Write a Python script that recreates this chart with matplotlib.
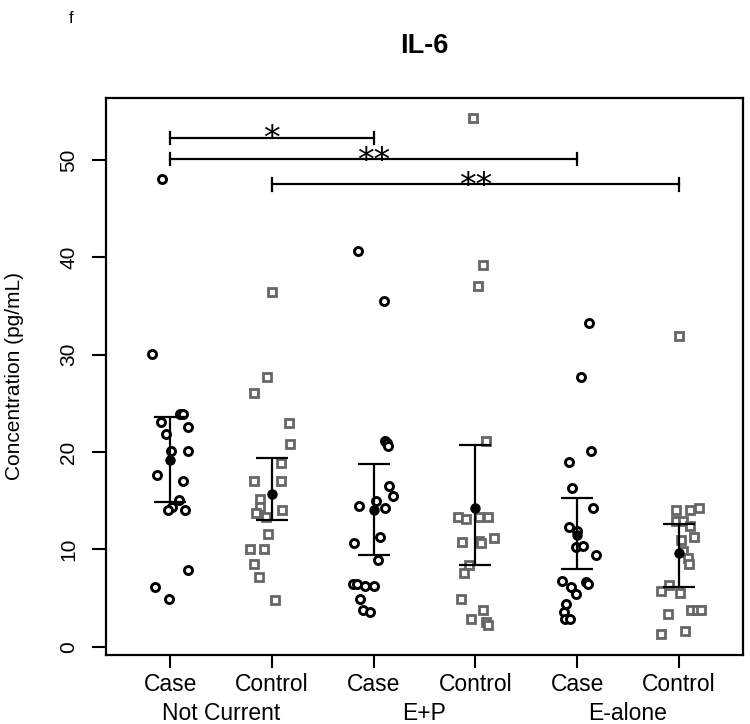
import matplotlib
matplotlib.use("Agg")
import matplotlib.pyplot as plt
import numpy as np

plt.rcParams['font.family'] = ['Liberation Sans', 'DejaVu Sans']

# group labels
tick_labels = ["Case", "Control", "Case", "Control", "Case", "Control"]
group_names = ["Not Current", "E+P", "E-alone"]

# IL-6 values (pg/mL) per group
nc_case = [48.1, 30.1, 23.9, 23.9, 23.1, 21.9, 22.6, 20.1, 20.1, 17.6, 17.0, 15.1, 14.4, 14.0, 14.0, 7.9, 6.1, 4.9]
nc_ctrl = [36.4, 27.7, 26.1, 23.0, 20.8, 18.9, 17.0, 17.0, 15.2, 14.4, 13.7, 13.3, 14.0, 11.6, 10.0, 10.0, 8.5, 7.2, 4.8]
ep_case = [40.7, 35.5, 21.1, 20.9, 20.6, 16.5, 15.5, 14.5, 15.0, 14.3, 11.3, 10.7, 8.9, 6.4, 6.4, 6.2, 6.2, 4.9, 3.8, 3.6]
ep_ctrl = [54.3, 39.2, 37.1, 21.1, 13.3, 13.1, 13.3, 13.3, 10.8, 10.9, 10.7, 11.2, 8.4, 7.6, 4.9, 3.8, 2.9, 2.5, 2.2]
ea_case = [33.3, 27.7, 20.1, 19.0, 16.3, 14.3, 12.3, 11.9, 10.2, 10.3, 9.4, 6.8, 6.1, 6.7, 6.4, 5.4, 4.4, 3.6, 2.9, 2.9]
ea_ctrl = [31.9, 14.0, 14.0, 14.3, 12.9, 12.9, 12.4, 11.3, 11.0, 9.8, 9.1, 8.5, 6.3, 5.7, 5.5, 3.8, 3.8, 3.8, 3.4, 1.3, 1.6]

# horizontal jitter of each point (as drawn)
jit_nc_case = [-0.08, -0.18, 0.10, 0.13, -0.09, -0.04, 0.18, 0.01, 0.18, -0.13, 0.13, 0.09, 0.02, -0.02, 0.15, 0.18, -0.15, -0.01]
jit_nc_ctrl = [0.0, -0.05, -0.18, 0.17, 0.18, 0.09, -0.18, 0.09, -0.12, -0.12, -0.16, -0.06, 0.10, -0.04, -0.21, -0.08, -0.18, -0.13, 0.03]
jit_ep_case = [-0.15, 0.10, 0.11, 0.13, 0.14, 0.15, 0.19, -0.14, 0.02, 0.11, 0.06, -0.19, 0.04, -0.20, -0.16, -0.08, 0.0, -0.13, -0.10, -0.04]
jit_ep_ctrl = [-0.02, 0.08, 0.03, 0.10, -0.17, -0.09, 0.04, 0.12, -0.13, 0.04, 0.06, 0.18, -0.06, -0.11, -0.14, 0.08, -0.04, 0.10, 0.12]
jit_ea_case = [0.12, 0.04, 0.14, -0.08, -0.05, 0.16, -0.08, 0.0, -0.01, 0.06, 0.19, -0.15, -0.06, 0.09, 0.11, -0.01, -0.11, -0.13, -0.12, -0.07]
jit_ea_ctrl = [0.0, -0.03, 0.11, 0.20, -0.03, 0.04, 0.11, 0.15, 0.02, 0.04, 0.09, 0.10, -0.10, -0.18, 0.01, 0.12, 0.18, 0.22, -0.11, -0.18, 0.06]

# mean and interval
means = [19.2, 15.7, 14.1, 14.3, 11.5, 9.6]
ci_lo = [14.9, 13.0, 9.4, 8.4, 8.0, 6.1]
ci_hi = [23.6, 19.4, 18.8, 20.7, 15.3, 12.6]

# significance brackets: (from, to, y, label)
sig_from = [1, 1, 2]
sig_to = [3, 5, 6]
sig_y = [52.3, 50.1, 47.5]
sig_lab = ["*", "**", "**"]

groups = [nc_case, nc_ctrl, ep_case, ep_ctrl, ea_case, ea_ctrl]
jitters = [jit_nc_case, jit_nc_ctrl, jit_ep_case, jit_ep_ctrl, jit_ea_case, jit_ea_ctrl]

fig = plt.figure(figsize=(7.5, 7.24), dpi=100)
ax = fig.add_axes([0.1413, 0.0957, 0.8493, 0.7694])

for i, (vals, jit) in enumerate(zip(groups, jitters)):
    x = i + 1 + np.array(jit)
    if i % 2 == 0:
        ax.plot(x, vals, 'o', ms=5.8, mfc='white', mec='black', mew=2.1, zorder=3)
    else:
        ax.plot(x, vals, 's', ms=6.4, mfc='white', mec='#666666', mew=2.0, zorder=3)

pos = np.arange(1, 7)
ax.errorbar(pos, means, yerr=[np.array(means) - ci_lo, np.array(ci_hi) - means],
            fmt='none', ecolor='black', elinewidth=1.6, capsize=11.5, capthick=1.6, zorder=4)
ax.plot(pos, means, 'o', color='black', ms=6.5, zorder=5)

for a, b, y, lab in zip(sig_from, sig_to, sig_y, sig_lab):
    ax.plot([a, b], [y, y], color='black', lw=1.6)
    ax.plot([a, a], [y - 0.63, y + 0.63], color='black', lw=1.6)
    ax.plot([b, b], [y - 0.63, y + 0.63], color='black', lw=1.6)
    ax.text((a + b) / 2, y - 1.2, lab, ha='center', va='baseline', fontsize=24,
            family=['DejaVu Sans'])

allv = np.concatenate(groups)
pad = 0.04 * (allv.max() - allv.min())
ax.set_ylim(allv.min() - pad, allv.max() + pad)
ax.set_xlim(0.37, 6.63)

ax.set_yticks(range(0, 51, 10))
ax.set_yticklabels([str(v) for v in range(0, 51, 10)], rotation=90, va='center', fontsize=15)
ax.set_xticks(pos)
ax.set_xticklabels(tick_labels, fontsize=16.5)
ax.tick_params(axis='y', length=10, width=1.5, pad=10)
ax.tick_params(axis='x', length=9.4, width=1.5, pad=4)
for s in ax.spines.values():
    s.set_linewidth(1.6)

for k, name in enumerate(group_names):
    ax.text(2 * k + 1.5, -0.1178, name, transform=ax.get_xaxis_transform(),
            ha='center', va='baseline', fontsize=16.5)

fig.text(0.02, 1 - 376 / 724, "Concentration (pg/mL)", rotation=90,
         ha='center', va='center', fontsize=15)
fig.text(424.5 / 750, 0.9272, "IL-6", fontsize=19.5, fontweight='bold',
         ha='center', va='baseline')
fig.text(0.092, 0.968, "f", fontsize=12, ha='left', va='baseline')

fig.savefig("out.png", dpi=100)
